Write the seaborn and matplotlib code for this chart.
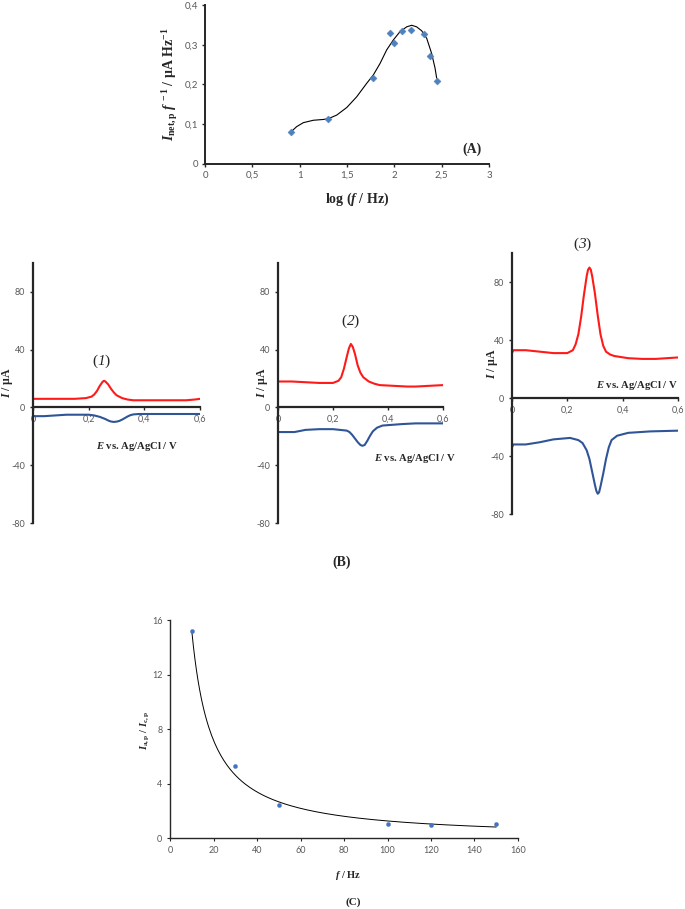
import numpy as np
import pandas as pd
import matplotlib
matplotlib.use("Agg")
import matplotlib.pyplot as plt
import seaborn as sns

# ---- panel A data: I_net,p / f versus log f ----
logf_a = [0.905, 1.303, 1.778, 1.954, 1.996, 2.084, 2.172, 2.317, 2.377, 2.447]
inet_a = [0.080, 0.114, 0.216, 0.329, 0.305, 0.334, 0.338, 0.326, 0.272, 0.210]
# trendline as drawn in the figure
trend_x = [0.905, 0.968, 1.039, 1.144, 1.250, 1.303, 1.391, 1.497, 1.602, 1.708, 1.778, 1.849,
           1.919, 1.989, 2.060, 2.130, 2.183, 2.236, 2.289, 2.342, 2.394, 2.430, 2.447]
trend_y = [0.080, 0.094, 0.104, 0.110, 0.112, 0.114, 0.123, 0.142, 0.169, 0.203, 0.224, 0.253,
           0.287, 0.312, 0.333, 0.345, 0.349, 0.345, 0.335, 0.316, 0.278, 0.241, 0.216]

# ---- panel B data: SWV forward (red) / reverse (blue) currents, uA ----
e1_fwd = [0.0, 0.05, 0.10, 0.15, 0.19, 0.21, 0.22, 0.23, 0.24, 0.25, 0.255, 0.26, 0.27, 0.28, 0.29,
          0.30, 0.32, 0.34, 0.36, 0.40, 0.45, 0.50, 0.55, 0.58, 0.60]
i1_fwd = [6, 6, 6, 6, 6.5, 7.5, 9, 11.5, 15, 17.8, 18.5, 18, 16, 13, 10.5,
          8.5, 6.5, 5.5, 5, 5, 5, 5, 5, 5.5, 6]
e1_rev = [0.0, 0.04, 0.08, 0.12, 0.20, 0.22, 0.24, 0.26, 0.27, 0.28, 0.29, 0.30, 0.31, 0.32, 0.33,
          0.34, 0.35, 0.36, 0.38, 0.40, 0.50, 0.60]
i1_rev = [-6, -6, -5.5, -5, -5, -5.5, -6.5, -8, -9, -9.7, -10, -9.8, -9.3, -8.4, -7.3,
          -6.2, -5.3, -4.8, -4.5, -4.5, -4.5, -4.5]

e2_fwd = [0.0, 0.05, 0.10, 0.15, 0.20, 0.22, 0.23, 0.24, 0.25, 0.258, 0.265, 0.272, 0.28, 0.29, 0.30,
          0.31, 0.33, 0.35, 0.37, 0.42, 0.47, 0.50, 0.55, 0.60]
i2_fwd = [18, 18, 17.5, 17, 17, 18.5, 21, 27, 35, 41, 44, 42, 37, 29, 24,
          21, 18, 16.5, 15.5, 15, 14.5, 14.5, 15, 15.5]
e2_rev = [0.0, 0.03, 0.06, 0.10, 0.15, 0.20, 0.25, 0.26, 0.27, 0.28, 0.29, 0.30, 0.307, 0.315, 0.325,
          0.335, 0.345, 0.36, 0.38, 0.45, 0.50, 0.60]
i2_rev = [-17, -17, -17, -15.5, -15, -15, -16, -17, -19, -21.5, -24, -26, -26.5, -26, -23,
          -19.5, -16.5, -14, -12.5, -11.5, -11, -11]

e3_fwd = [0.0, 0.005, 0.05, 0.10, 0.15, 0.20, 0.22, 0.23, 0.24, 0.25, 0.26, 0.27, 0.275, 0.28, 0.285,
          0.29, 0.30, 0.31, 0.32, 0.33, 0.34, 0.355, 0.37, 0.42, 0.47, 0.52, 0.60]
i3_fwd = [31, 33, 33, 32, 31, 31, 33, 37, 44, 56, 71, 84, 88.5, 90, 88.5,
          84, 72, 57, 44, 36, 32, 30, 29, 27.5, 27, 27, 28]
e3_rev = [0.0, 0.005, 0.05, 0.10, 0.15, 0.21, 0.24, 0.255, 0.27, 0.28, 0.29, 0.30, 0.305, 0.31, 0.315,
          0.32, 0.33, 0.34, 0.35, 0.36, 0.38, 0.42, 0.50, 0.60]
i3_rev = [-34, -32, -32, -30.5, -28.5, -27.5, -29, -31, -36, -42, -51, -60, -64, -66, -65,
          -61, -52, -42, -34, -29, -26, -24, -23, -22.5]

# ---- panel C data: Ia,p / Ic,p versus f ----
f_c = [10, 30, 50, 100, 120, 150]
ratio_c = [15.2, 5.3, 2.4, 1.0, 0.95, 1.05]

sns.set_style("ticks")
plt.rcParams['font.family'] = ['Liberation Serif', 'DejaVu Serif']
plt.rcParams['axes.unicode_minus'] = False
plt.rcParams['mathtext.fontset'] = 'custom'
plt.rcParams['mathtext.rm'] = 'Liberation Serif:bold'
plt.rcParams['mathtext.it'] = 'Liberation Serif:bold:italic'
plt.rcParams['mathtext.bf'] = 'Liberation Serif:bold'
plt.rcParams['mathtext.sf'] = 'Liberation Serif:italic'

TICK_FONT = 'Lato'
TICK_COL = '#595959'
RED = '#ff1a1a'
BLUE = '#2f5597'
MARK = '#4f81bd'

fig = plt.figure(figsize=(6.85, 9.09), dpi=100)


def style_ticks(ax, size):
    for lab in ax.get_xticklabels() + ax.get_yticklabels():
        lab.set_fontfamily(TICK_FONT)
        lab.set_fontsize(size)
        lab.set_color(TICK_COL)


# ---------------- panel A ----------------
axA = fig.add_axes([0.2993, 0.8196, 0.4146, 0.1749])
sns.lineplot(x=trend_x, y=trend_y, color='black', lw=0.8, ax=axA)
sns.scatterplot(x=logf_a, y=inet_a, marker='D', s=13, color=MARK,
                edgecolor=MARK, ax=axA, zorder=3)
axA.set_xlim(0, 3)
axA.set_ylim(0, 0.4)
axA.set_xticks([0, 0.5, 1, 1.5, 2, 2.5, 3])
axA.set_xticklabels(['0', '0,5', '1', '1,5', '2', '2,5', '3'])
axA.set_yticks([0, 0.1, 0.2, 0.3, 0.4])
axA.set_yticklabels(['0', '0,1', '0,2', '0,3', '0,4'])
axA.tick_params(length=2, width=1, pad=3)
style_ticks(axA, 7)
sns.despine(ax=axA)
for s in ['left', 'bottom']:
    axA.spines[s].set_linewidth(1.4)
axA.text(0.535, -0.22, 'log ($f$ / Hz)', transform=axA.transAxes, ha='center',
         va='center', fontsize=10, fontweight='bold')
axA.text(-0.123, 0.5, r'$I_{\mathrm{net,p}}\ f^{\,-1}$ / µA Hz$^{-1}$', transform=axA.transAxes,
         rotation=90, ha='center', va='center', fontsize=10, fontweight='bold')
axA.text(0.94, 0.094, '(A)', transform=axA.transAxes, ha='center', va='center',
         fontsize=10, fontweight='bold')

# ---------------- panel B ----------------
panels = [
    ([0.0482, 0.4246, 0.2438, 0.2860], e1_fwd, i1_fwd, e1_rev, i1_rev,
     '1', (0.248, 32), (0.374, -27), (-0.093, 17)),
    ([0.4058, 0.4246, 0.2409, 0.2860], e2_fwd, i2_fwd, e2_rev, i2_rev,
     '2', (0.265, 60), (0.498, -35), (-0.058, 17)),
    ([0.7474, 0.4345, 0.2423, 0.2871], e3_fwd, i3_fwd, e3_rev, i3_rev,
     '3', (0.257, 106), (0.452, 9), (-0.072, 24)),
]
for rect, ef, jf, er, jr, tag, tag_xy, xl_xy, yl_xy in panels:
    ax = fig.add_axes(rect)
    sns.lineplot(x=ef, y=jf, color=RED, lw=1.5, ax=ax)
    sns.lineplot(x=er, y=jr, color=BLUE, lw=1.5, ax=ax)
    ax.set_xlim(0, 0.6)
    ax.set_ylim(-80, 100)
    ax.set_xticks([0, 0.2, 0.4, 0.6])
    ax.set_xticklabels(['0', '0,2', '0,4', '0,6'])
    ax.set_yticks([-80, -40, 0, 40, 80])
    ax.spines['bottom'].set_position(('data', 0))
    ax.spines['top'].set_visible(False)
    ax.spines['right'].set_visible(False)
    for s in ['left', 'bottom']:
        ax.spines[s].set_linewidth(1.6)
    ax.tick_params(length=2.5, width=1, pad=3)
    style_ticks(ax, 6.5)
    ax.text(tag_xy[0], tag_xy[1], '($\\mathsf{' + tag + '}$)', ha='center', va='center',
            fontsize=11, clip_on=False)
    ax.text(xl_xy[0], xl_xy[1], '$E$ vs. Ag/AgCl / V', ha='center', va='center',
            fontsize=7.7, fontweight='bold', clip_on=False)
    ax.text(yl_xy[0], yl_xy[1], '$I$ / µA', rotation=90, ha='center', va='center',
            fontsize=8.5, fontweight='bold', clip_on=False)

fig.text(0.499, 0.3817, '(B)', ha='center', va='center', fontsize=10, fontweight='bold')

# ---------------- panel C ----------------
axC = fig.add_axes([0.2482, 0.0781, 0.5080, 0.2398])
# power-law trendline fitted to the measured points
b, log_a = np.polyfit(np.log(f_c), np.log(ratio_c), 1)
f_fit = np.linspace(min(f_c), max(f_c), 200)
sns.lineplot(x=f_fit, y=np.exp(log_a) * f_fit ** b, color='black', lw=0.7, ax=axC)
sns.scatterplot(x=f_c, y=ratio_c, color='#4472c4', s=9, edgecolor='#4472c4',
                ax=axC, zorder=3)
axC.set_xlim(0, 160)
axC.set_ylim(0, 16)
axC.set_xticks(range(0, 161, 20))
axC.set_yticks([0, 4, 8, 12, 16])
axC.tick_params(length=2.5, width=0.8, pad=3)
style_ticks(axC, 6.5)
sns.despine(ax=axC)
for s in ['left', 'bottom']:
    axC.spines[s].set_linewidth(1.0)
axC.text(0.511, -0.17, '$f$ / Hz', transform=axC.transAxes, ha='center', va='center',
         fontsize=7.5, fontweight='bold')
axC.text(-0.072, 0.495, r'$I_{\mathrm{a,p}}$ / $I_{\mathrm{c,p}}$', transform=axC.transAxes,
         rotation=90, ha='center', va='center', fontsize=7.5, fontweight='bold')
fig.text(0.515, 0.0077, '(C)', ha='center', va='center', fontsize=8, fontweight='bold')

fig.savefig('out.png', dpi=100)
